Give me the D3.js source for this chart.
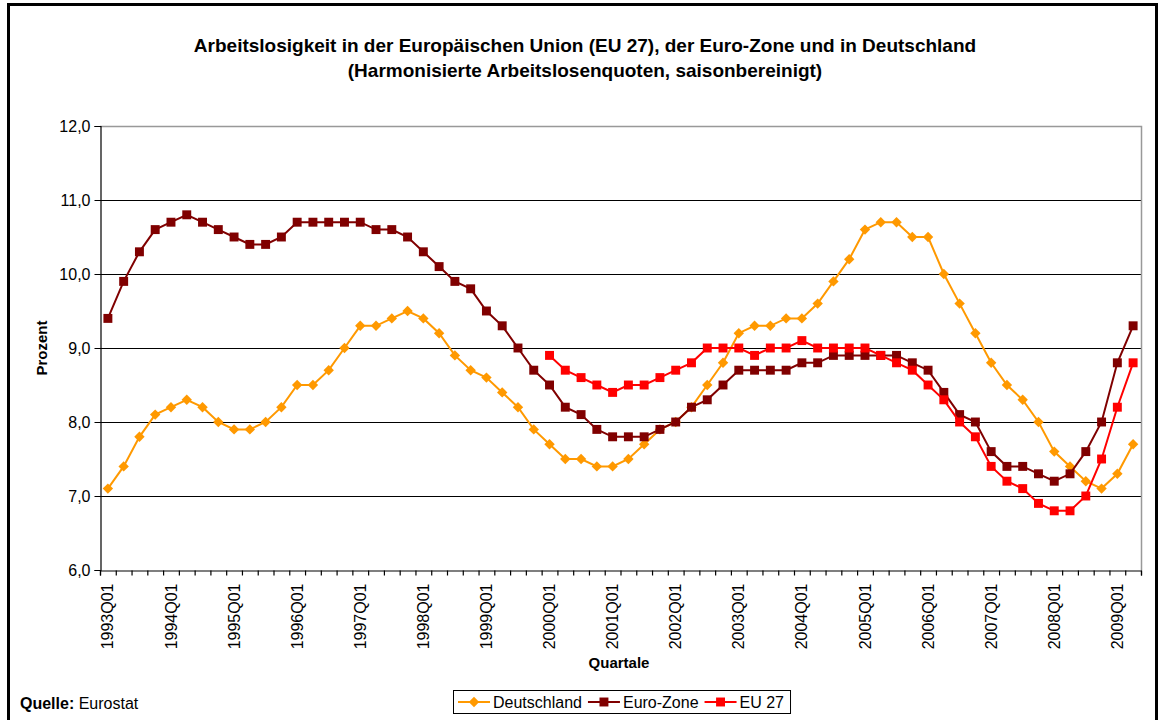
<!DOCTYPE html>
<html>
<head>
<meta charset="utf-8">
<script src="https://cdn.jsdelivr.net/npm/d3@7"></script>
<style>
  body { margin: 0; background: #fff; }
  text { font-family: "Liberation Sans", Arial, sans-serif; fill: #000; }
</style>
</head>
<body>
<div id="chart"></div>
<script>
// categories: 1993Q01 .. 2009Q02
var years = d3.range(1993, 2010);
var quarters = [];
years.forEach(function(y) {
    ["Q01", "Q02", "Q03", "Q04"].forEach(function(q) { quarters.push(y + q); });
});
quarters = quarters.slice(0, 66);

var yTicks = [6, 7, 8, 9, 10, 11, 12];

// Deutschland
var deutschland = [7.1, 7.4, 7.8, 8.1, 8.2, 8.3, 8.2, 8.0, 7.9, 7.9, 8.0, 8.2,
    8.5, 8.5, 8.7, 9.0, 9.3, 9.3, 9.4, 9.5, 9.4, 9.2, 8.9, 8.7,
    8.6, 8.4, 8.2, 7.9, 7.7, 7.5, 7.5, 7.4, 7.4, 7.5, 7.7, 7.9,
    8.0, 8.2, 8.5, 8.8, 9.2, 9.3, 9.3, 9.4, 9.4, 9.6, 9.9, 10.2,
    10.6, 10.7, 10.7, 10.5, 10.5, 10.0, 9.6, 9.2, 8.8, 8.5, 8.3, 8.0,
    7.6, 7.4, 7.2, 7.1, 7.3, 7.7];

// Euro-Zone
var euroZone = [9.4, 9.9, 10.3, 10.6, 10.7, 10.8, 10.7, 10.6, 10.5, 10.4, 10.4, 10.5,
    10.7, 10.7, 10.7, 10.7, 10.7, 10.6, 10.6, 10.5, 10.3, 10.1, 9.9, 9.8,
    9.5, 9.3, 9.0, 8.7, 8.5, 8.2, 8.1, 7.9, 7.8, 7.8, 7.8, 7.9,
    8.0, 8.2, 8.3, 8.5, 8.7, 8.7, 8.7, 8.7, 8.8, 8.8, 8.9, 8.9,
    8.9, 8.9, 8.9, 8.8, 8.7, 8.4, 8.1, 8.0, 7.6, 7.4, 7.4, 7.3,
    7.2, 7.3, 7.6, 8.0, 8.8, 9.3];

// EU 27 (from 2000Q01)
var eu27 = [null, null, null, null, null, null, null, null, null, null, null, null,
    null, null, null, null, null, null, null, null, null, null, null, null,
    null, null, null, null, 8.9, 8.7, 8.6, 8.5, 8.4, 8.5, 8.5, 8.6,
    8.7, 8.8, 9.0, 9.0, 9.0, 8.9, 9.0, 9.0, 9.1, 9.0, 9.0, 9.0,
    9.0, 8.9, 8.8, 8.7, 8.5, 8.3, 8.0, 7.8, 7.4, 7.2, 7.1, 6.9,
    6.8, 6.8, 7.0, 7.5, 8.2, 8.8];

var series = [
    {name: "Deutschland", values: deutschland, color: "#FF9900", marker: "diamond"},
    {name: "Euro-Zone", values: euroZone, color: "#800000", marker: "square"},
    {name: "EU 27", values: eu27, color: "#FF0000", marker: "square"}
];

var width = 1160, height = 720;
var plot = {left: 100, right: 1141, top: 126, bottom: 570};

var svg = d3.select("#chart").append("svg")
    .attr("width", width)
    .attr("height", height);

//outer frame
svg.append("rect")
    .attr("x", 8.5).attr("y", 4.5)
    .attr("width", 1148).attr("height", 740)
    .attr("fill", "none")
    .attr("stroke", "#000")
    .attr("stroke-width", 3);

var x = d3.scaleBand().domain(quarters).range([plot.left, plot.right]);
var xi = d3.scaleLinear().domain([0, quarters.length]).range([plot.left, plot.right]);
var y = d3.scaleLinear().domain([6, 12]).range([plot.bottom, plot.top]);

var cx = function(i) { return x(quarters[i]) + x.bandwidth() / 2; };

//grid lines
svg.append("g").attr("class", "grid")
    .selectAll("line")
    .data(yTicks.slice(1, -1)).enter()
    .append("line")
    .attr("x1", plot.left).attr("x2", plot.right)
    .attr("y1", function(d) { return Math.round(y(d)) + 0.5; })
    .attr("y2", function(d) { return Math.round(y(d)) + 0.5; })
    .attr("stroke", "#000")
    .attr("stroke-width", 1);

//plot area border (top/right grey)
svg.append("path")
    .attr("d", "M" + plot.left + "," + (plot.top + 0.5) + "H" + (plot.right + 0.5) + "V" + plot.bottom)
    .attr("fill", "none")
    .attr("stroke", "#999")
    .attr("stroke-width", 1.5);

//y axis
var yAxis = svg.append("g")
    .attr("transform", "translate(" + (plot.left + 0.5) + ",0)")
    .call(d3.axisLeft(y).tickValues(yTicks).tickSize(6).tickPadding(4)
        .tickFormat(function(d) { return d3.format(".1f")(d).replace(".", ","); }));
yAxis.select(".domain").attr("stroke", "#000").attr("stroke-width", 1.2);
yAxis.selectAll("text").style("font-size", "16px").attr("fill", "#000");
yAxis.selectAll("line").attr("stroke", "#000");

//x axis tick marks between categories
var xAxis = svg.append("g")
    .attr("transform", "translate(0," + (plot.bottom + 0.5) + ")")
    .call(d3.axisBottom(xi).tickValues(d3.range(0, quarters.length + 1)).tickSize(5).tickFormat(""));
xAxis.select(".domain").attr("stroke", "#000").attr("stroke-width", 1.2);
xAxis.selectAll("line").attr("stroke", "#000").attr("stroke-width", 1.2);

//x labels
var xLabels = svg.append("g")
    .attr("transform", "translate(0," + (plot.bottom + 0.5) + ")")
    .call(d3.axisBottom(x).tickValues(quarters.filter(function(d, i) { return i % 4 === 0; })).tickSize(0));
xLabels.select(".domain").remove();
xLabels.selectAll("text")
    .style("font-size", "16px")
    .attr("fill", "#000")
    .attr("transform", "rotate(-90)")
    .attr("text-anchor", "end")
    .attr("x", -13)
    .attr("y", 0)
    .attr("dy", "0.35em");

//axis titles
svg.append("text")
    .attr("transform", "translate(47,348) rotate(-90)")
    .attr("text-anchor", "middle")
    .style("font-size", "15px").style("font-weight", "bold")
    .text("Prozent");

svg.append("text")
    .attr("x", 619).attr("y", 668)
    .attr("text-anchor", "middle")
    .style("font-size", "15px").style("font-weight", "bold")
    .text("Quartale");

//title
var title = svg.append("text")
    .attr("x", 585).attr("y", 52)
    .attr("text-anchor", "middle")
    .style("font-size", "19px").style("font-weight", "bold");
title.append("tspan").attr("x", 585).text("Arbeitslosigkeit in der Europäischen Union (EU 27), der Euro-Zone und in Deutschland");
title.append("tspan").attr("x", 585).attr("dy", 25).text("(Harmonisierte Arbeitslosenquoten, saisonbereinigt)");

//source
var src = svg.append("text").attr("x", 20).attr("y", 709).style("font-size", "16px");
src.append("tspan").style("font-weight", "bold").text("Quelle:");
src.append("tspan").text(" Eurostat");

//markers
var squareSym = d3.symbol().type(d3.symbolSquare).size(80);
var diamondSym = function() {
    var r = 5.2;
    return "M0," + (-r) + "L" + r + ",0L0," + r + "L" + (-r) + ",0Z";
};
function markerPath(s) { return s.marker === "diamond" ? diamondSym() : squareSym(); }

//lines
var line = d3.line()
    .defined(function(d) { return d != null; })
    .x(function(d, i) { return cx(i); })
    .y(function(d) { return y(d); });

series.forEach(function(s) {
    var g = svg.append("g").attr("class", "series");
    g.append("path")
        .datum(s.values)
        .attr("d", line)
        .attr("fill", "none")
        .attr("stroke", s.color)
        .attr("stroke-width", 2);
    g.selectAll("path.marker")
        .data(s.values.map(function(v, i) { return {v: v, i: i}; }).filter(function(d) { return d.v != null; }))
        .enter().append("path")
        .attr("class", "marker")
        .attr("transform", function(d) { return "translate(" + cx(d.i) + "," + y(d.v) + ")"; })
        .attr("d", markerPath(s))
        .attr("fill", s.color);
});

//legend
var legend = svg.append("g").attr("class", "legend");
var lx = 458, ly = 702;
series.forEach(function(s) {
    var it = legend.append("g").attr("transform", "translate(" + lx + "," + ly + ")");
    it.append("line").attr("x1", 0).attr("x2", 32).attr("y1", 0).attr("y2", 0)
        .attr("stroke", s.color).attr("stroke-width", 2);
    it.append("path").attr("transform", "translate(16,0)").attr("d", markerPath(s)).attr("fill", s.color);
    var t = it.append("text").attr("x", 35).attr("y", 6).style("font-size", "16px").text(s.name);
    lx += 35 + t.node().getComputedTextLength() + 6;
});
legend.insert("rect", ":first-child")
    .attr("x", 453.5).attr("y", 690.5)
    .attr("width", lx - 453).attr("height", 23)
    .attr("fill", "#fff")
    .attr("stroke", "#000")
    .attr("stroke-width", 1);
</script>
</body>
</html>
